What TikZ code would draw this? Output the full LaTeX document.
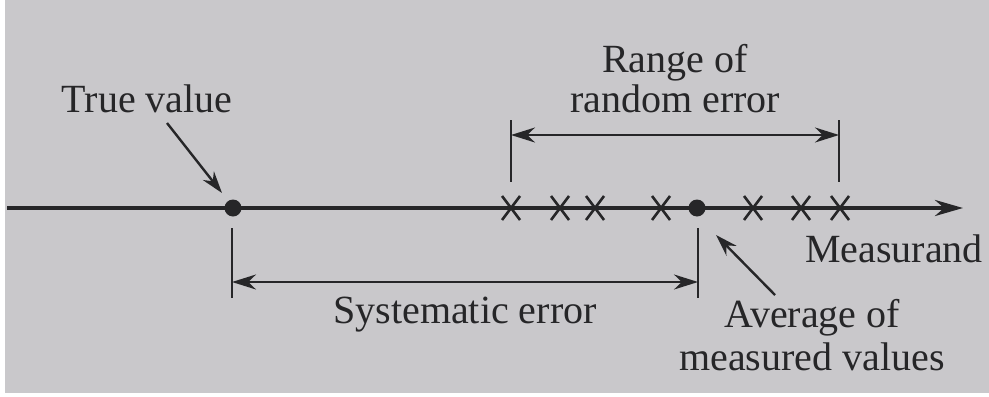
\documentclass[tikz,border=0pt]{standalone}
\usepackage{fontspec}
\setmainfont{Liberation Serif}
\usetikzlibrary{arrows.meta}

\definecolor{paper}{RGB}{201,200,203}
\definecolor{ink}{RGB}{38,38,40}

\tikzset{
  label/.style={text=ink, inner sep=0pt, align=center,
    font=\fontsize{20}{21}\selectfont},
  axisline/.style={draw=ink, line width=2pt,
    -{Stealth[length=14pt, width=8pt]}},
  tick/.style={draw=ink, line width=1.1pt},
  span/.style={draw=ink, line width=1.1pt,
    {Stealth[length=12pt, width=7.5pt]}-{Stealth[length=12pt, width=7.5pt]}},
  pointer/.style={draw=ink, line width=1.2pt,
    -{Stealth[length=11pt, width=7pt]}},
  point/.style={circle, fill=ink, inner sep=0pt, minimum size=8.5pt},
  reading/.style={draw=ink, line width=1.3pt},
}

\begin{document}
\begin{tikzpicture}[x=0.5pt, y=-0.5pt]
  % page
  \useasboundingbox (0,0) rectangle (989,396);
  \fill[white] (0,0) rectangle (989,396);
  \fill[paper] (5,0) rectangle (989,393);

  % measurand axis
  \coordinate (axstart) at (7,208);
  \coordinate (axend) at (963,208);
  \draw[axisline] (axstart) -- (axend);

  % true value and average of readings
  \node[point] (tv) at (233,208) {};
  \node[point] (avg) at (697,208) {};

  % individual readings
  \foreach \x in {511,560,595,661,753,801,840}
    \draw[reading] (\x-9,196) -- (\x+9,220) (\x+9,196) -- (\x-9,220);

  % range of random error
  \coordinate (rl1) at (511,120);
  \coordinate (rl2) at (511,182);
  \coordinate (rr1) at (839,120);
  \coordinate (rr2) at (839,182);
  \coordinate (rla) at (511,135);
  \coordinate (rra) at (839,135);
  \draw[tick] (rl1) -- (rl2);
  \draw[tick] (rr1) -- (rr2);
  \draw[span] (rla) -- (rra);

  % systematic error
  \coordinate (sl1) at (232,228);
  \coordinate (sl2) at (232,298);
  \coordinate (sr1) at (698,228);
  \coordinate (sr2) at (698,298);
  \coordinate (sla) at (232,282);
  \coordinate (sra) at (698,282);
  \draw[tick] (sl1) -- (sl2);
  \draw[tick] (sr1) -- (sr2);
  \draw[span] (sla) -- (sra);

  % labels (two-line labels are placed by the baseline of their last line)
  \node[label, anchor=base] (truev) at (147,112) {True value};
  \node[label, anchor=base, font=\fontsize{20}{20}\selectfont] (range) at (675,112) {Range of\\random error};
  \node[label, anchor=base] (syst) at (465,323) {Systematic error};
  \node[label, anchor=base] (meas) at (894,262) {Measurand};
  \node[label, anchor=base, font=\fontsize{20}{21.5}\selectfont] (avgtext) at (812,370) {Average of\\measured values};

  % pointers
  \coordinate (tvtail) at (167,123);
  \coordinate (tvtip) at (222,193);
  \draw[pointer] (tvtail) -- (tvtip);
  \coordinate (avtail) at (775,295);
  \coordinate (avtip) at (716,235);
  \draw[pointer] (avtail) -- (avtip);
\end{tikzpicture}
\end{document}
